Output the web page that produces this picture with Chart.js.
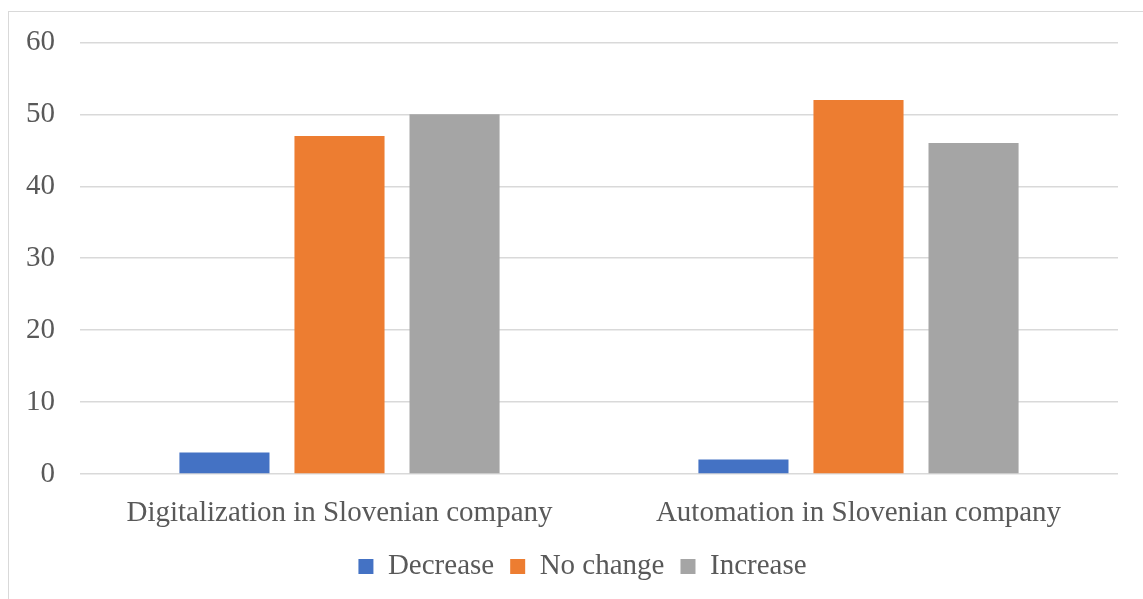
<!DOCTYPE html>
<html>
<head>
<meta charset="utf-8">
<script src="https://cdn.jsdelivr.net/npm/chart.js@4.4.0/dist/chart.umd.min.js"></script>
<style>
    body { margin: 0; background: #fff; overflow: hidden; }
    .frame {
        position: absolute; left: 8px; top: 11px;
        width: 1200px; height: 700px;
        border: 1px solid #d9d9d9;
    }
    .wrap { position: absolute; left: 0; top: 0; width: 1165px; height: 599px; }
</style>
</head>
<body>
<div class="frame"></div>
<div class="wrap"><canvas id="surveyChart"></canvas></div>
<script>
const categories = ['Digitalization in Slovenian company', 'Automation in Slovenian company'];
const decreaseValues = [3, 2];
const noChangeValues = [47, 52];
const increaseValues = [50, 46];
const yTicks = [0, 10, 20, 30, 40, 50, 60];

const textColor = '#595959';
const fontFamily = '"Liberation Serif", "Times New Roman", serif';

// the legend is centred on the outer frame, not on the plot
const legendShift = {
    id: 'legendShift',
    afterLayout(chart) {
        if (chart.legend) {
            chart.legend.left = 47;
        }
    }
};

document.addEventListener('DOMContentLoaded', function () {
    const ctx = document.getElementById('surveyChart');

    new Chart(ctx, {
        type: 'bar',
        data: {
            labels: categories,
            datasets: [
                { label: 'Decrease', data: decreaseValues, backgroundColor: '#4472C4' },
                { label: 'No change', data: noChangeValues, backgroundColor: '#ED7D31' },
                { label: 'Increase', data: increaseValues, backgroundColor: '#A5A5A5' }
            ]
        },
        plugins: [legendShift],
        options: {
            responsive: true,
            maintainAspectRatio: false,
            animation: false,
            categoryPercentage: 0.665,
            barPercentage: 0.783,
            layout: {
                padding: { left: 0, right: 47, top: 41, bottom: 8 }
            },
            plugins: {
                tooltip: { enabled: false },
                legend: {
                    position: 'bottom',
                    labels: {
                        color: textColor,
                        font: { family: fontFamily, size: 29 },
                        boxWidth: 15,
                        boxHeight: 15,
                        padding: 16
                    }
                }
            },
            scales: {
                x: {
                    afterFit: function (scale) { scale.height = 62; },
                    grid: { display: false },
                    border: { display: false },
                    ticks: {
                        color: textColor,
                        font: { family: fontFamily, size: 29 },
                        padding: 14
                    }
                },
                y: {
                    min: yTicks[0],
                    max: yTicks[yTicks.length - 1],
                    afterFit: function (scale) { scale.width = 80; },
                    afterBuildTicks: function (scale) {
                        scale.ticks = yTicks.map(v => ({ value: v }));
                    },
                    grid: { color: '#d9d9d9', lineWidth: 1.5, drawTicks: false },
                    border: { display: false },
                    ticks: {
                        color: textColor,
                        font: { family: fontFamily, size: 29 },
                        padding: 25
                    }
                }
            }
        }
    });
});
</script>
</body>
</html>
